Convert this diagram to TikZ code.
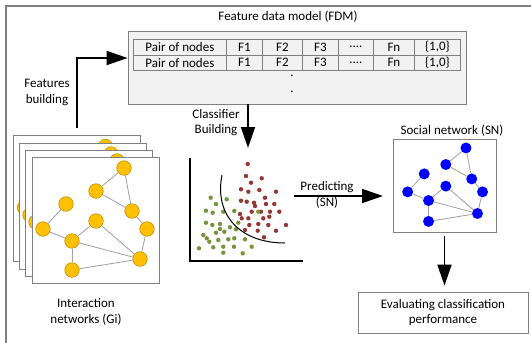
\documentclass[tikz,border=0pt]{standalone}
\usepackage{fontspec}
\setmainfont{Carlito}
\usetikzlibrary{arrows.meta,calc}
\definecolor{yfill}{HTML}{FFC000}
\definecolor{yedge}{HTML}{BF9000}
\definecolor{bfill}{HTML}{0000FF}
\definecolor{reddot}{HTML}{953735}
\definecolor{greendot}{HTML}{77933C}
\definecolor{boxgray}{HTML}{808080}
\definecolor{fdmfill}{HTML}{F2F2F2}
\newcommand\netgraph[1]{%
  \node[#1] (n1) at (124,168) {};
  \node[#1] (n2) at (96,191) {};
  \node[#1] (n3) at (66,204) {};
  \node[#1] (n4) at (132,211) {};
  \node[#1] (n5) at (96,221) {};
  \node[#1] (n6) at (43,229) {};
  \node[#1] (n7) at (147,229) {};
  \node[#1] (n8) at (72,241) {};
  \node[#1] (n9) at (140,259) {};
  \node[#1] (n10) at (72,270) {};
  \draw[netedge] (n1) -- (n2);
  \draw[netedge] (n1) -- (n4);
  \draw[netedge] (n2) -- (n4);
  \draw[netedge] (n3) -- (n6);
  \draw[netedge] (n6) -- (n8);
  \draw[netedge] (n8) -- (n5);
  \draw[netedge] (n5) -- (n9);
  \draw[netedge] (n8) -- (n9);
  \draw[netedge] (n4) -- (n7);
  \draw[netedge] (n7) -- (n9);
  \draw[netedge] (n8) -- (n10);
  \draw[netedge] (n10) -- (n9);
}
\newcommand\tablerow[2]{%
  \node[cell, minimum width=93pt] (#1c1) at (133,#2) {Pair of nodes};
  \node[cell, minimum width=36pt] (#1c2) at (226,#2) {F1};
  \node[cell, minimum width=40pt] (#1c3) at (262,#2) {F2};
  \node[cell, minimum width=36pt] (#1c4) at (302,#2) {F3};
  \node[cell, minimum width=35pt] (#1c5) at (338,#2) {....};
  \node[cell, minimum width=41pt] (#1c6) at (373,#2) {Fn};
  \node[cell, minimum width=46pt] (#1c7) at (414,#2) {\{1,0\}};
}
\begin{document}
\begin{tikzpicture}[x=1pt,y=-1pt,
  every node/.style={font=\fontsize{13}{15.5}\selectfont, inner sep=0pt},
  lbl/.style={align=center},
  bigarrow/.style={line width=1.8pt, -{Triangle[length=21pt,width=14pt]}},
  cell/.style={draw=boxgray, line width=0.8pt, minimum height=15.5pt, anchor=north west},
  sheet/.style={draw=boxgray, fill=white, line width=0.8pt, minimum width=127pt, minimum height=126pt},
  ynode/.style={circle, fill=yfill, draw=yedge, line width=0.6pt, minimum size=14.5pt},
  bnode/.style={circle, fill=bfill, minimum size=11pt},
  netedge/.style={draw=gray!75, line width=0.8pt},
  plainbox/.style={draw=boxgray, line width=0.8pt},
]
\useasboundingbox (0,0) rectangle (531,343);
% outer frame
\draw[boxgray, line width=1.5pt] (6,343) -- (6,6) -- (531,6);

% FDM
\node (fdmtitle) at (288,16.5) {Feature data model (FDM)};
\node[plainbox, fill=fdmfill, minimum width=338pt, minimum height=73pt] (fdm) at (297,67.5) {};
\tablerow{ra}{39}
\tablerow{rb}{54.5}
\node (dot1) at (292,76) {.};
\node (dot2) at (292,92) {.};

% stacked interaction networks
\begin{scope}[shift={(-18.5,-21.5)}, name prefix=g1-]
  \node[sheet] (sheet) at (95.5,220) {};
  \netgraph{ynode}
\end{scope}
\begin{scope}[shift={(-13,-14)}, name prefix=g2-]
  \node[sheet] (sheet) at (95.5,220) {};
  \netgraph{ynode}
\end{scope}
\begin{scope}[shift={(-7,-7)}, name prefix=g3-]
  \node[sheet] (sheet) at (95.5,220) {};
  \netgraph{ynode}
\end{scope}
\begin{scope}[name prefix=g4-]
  \node[sheet] (sheet) at (95.5,220) {};
  \netgraph{ynode}
\end{scope}
\node[lbl] (gi) at (86,312) {Interaction\\networks (Gi)};

% features building arrow
\node[lbl] (fb) at (47,92.5) {Features\\building};
\coordinate (fbstart) at (77,128);
\draw[bigarrow] (fbstart) |- ([yshift=9.5pt]fdm.west);

% classifier building arrow
\node[lbl] (cb) at (216,122.5) {Classifier\\Building};
\coordinate (cbtip) at (248,148);
\draw[bigarrow] (cbtip |- fdm.south) -- (cbtip);

% scatter plot
\draw[line width=1.3pt] (190,158) -- (190,261) -- (303,261);
\foreach \p in {(247.7,164),(246,176),(261.7,178.3),(251,182.7),(241,189.3),(259.3,190),
  (248.3,191.7),(276,191.7),(265,197.7),(241,200.7),(246.7,201.7),(254,202.7),(255,206),
  (266,204),(274.3,204),(251.7,211.7),(261,211.7),(270,211.7),(279.3,211.7),(240,214),
  (241.7,218.3),(248.3,218.3),(263.3,218.3),(269.3,216.7),(286,225),(249.3,225),
  (258.3,224),(268.3,225),(245,230),(257.7,230.7),(276,230.7),(264,237.3)}
  \fill[reddot] \p circle[radius=2.2pt];
\foreach \p in {(210.7,197.7),(226.7,199.3),(216,204),(206,210.7),(212.7,212.7),(223.3,211.7),
  (234.3,211),(258.3,211.7),(206,222.7),(212.3,225),(220,224),(230,227.3),(238.3,222.7),
  (220,229),(216,232.7),(224.3,231.7),(236,229.3),(203.3,235),(206.7,238.3),(209.3,241.7),
  (218.3,240),(228.3,239.3),(234.3,238.3),(245,239.3),(199,248.3),(213.3,247.3),(223.3,246.7),
  (234,246.7),(251.7,246.7),(223.3,252.7),(242.7,253.3)}
  \fill[greendot] \p circle[radius=2.2pt];
\draw[line width=1pt] (222,175) .. controls (214,215) and (240,243) .. (285,243);

% predicting arrow
\node[lbl] (pr) at (327,195) {Predicting\\(SN)};
\coordinate (prstart) at (294,196);
\coordinate (prtip) at (383,196);
\draw[bigarrow] (prstart) -- (prtip);

% social network
\node (sntitle) at (452,131) {Social network (SN)};
\node[plainbox, minimum width=103pt, minimum height=93pt] (sn) at (444.5,185.5) {};
\begin{scope}[shift={(376.7,27)}, scale=0.72, name prefix=sn-]
  \netgraph{bnode}
\end{scope}

% evaluation
\node[plainbox, minimum width=170pt, minimum height=41pt, align=center] (eval) at (443,312.5)
  {Evaluating classification\\performance};
\coordinate (evtop) at ([yshift=6pt]eval.north);
\draw[bigarrow] ([yshift=-4pt]sn.south) -- (sn.south |- evtop);
\end{tikzpicture}
\end{document}
